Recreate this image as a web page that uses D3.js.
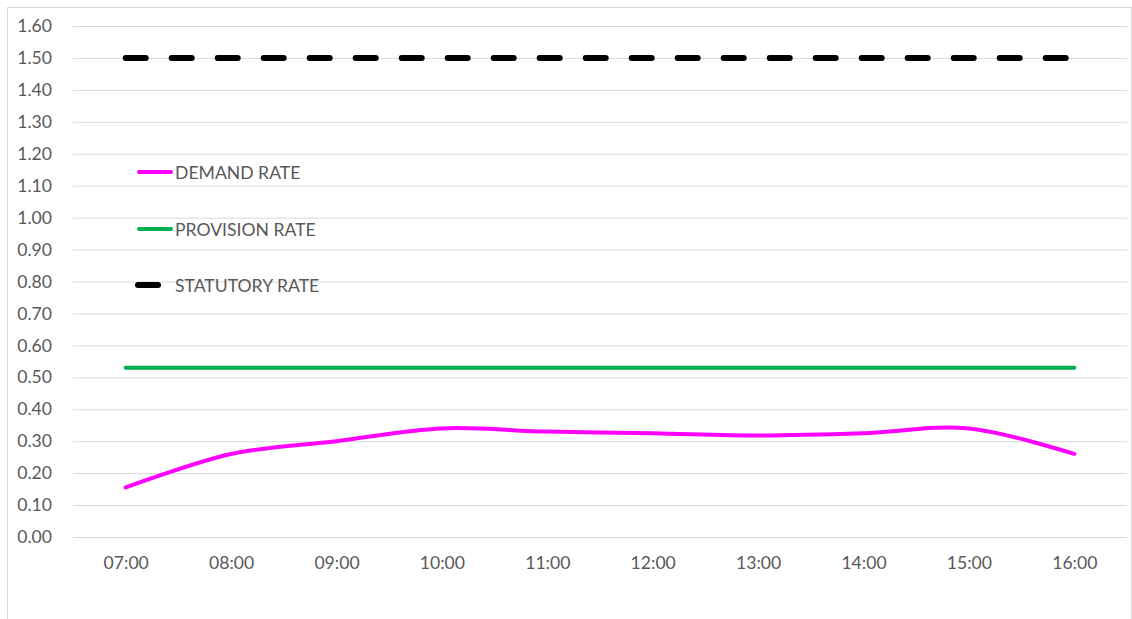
<!DOCTYPE html>
<html>
<head>
<meta charset="utf-8">
<script src="https://cdn.jsdelivr.net/npm/d3@7"></script>
<style>
  html, body { margin: 0; padding: 0; background: #fff; }
  svg { display: block; }
  text { font-family: "Lato", "Open Sans", sans-serif; fill: #595959; }
</style>
</head>
<body>
<svg id="chart" width="1132" height="619"></svg>
<script>
// Hourly time slots
const hours = ["07:00", "08:00", "09:00", "10:00", "11:00", "12:00", "13:00", "14:00", "15:00", "16:00"];
// Rates per slot
const demandRate    = [0.155, 0.26, 0.30, 0.34, 0.33, 0.325, 0.318, 0.325, 0.34, 0.26];
const provisionRate = [0.53, 0.53, 0.53, 0.53, 0.53, 0.53, 0.53, 0.53, 0.53, 0.53];
const statutoryRate = [1.50, 1.50, 1.50, 1.50, 1.50, 1.50, 1.50, 1.50, 1.50, 1.50];
const yTicks = [0, 0.1, 0.2, 0.3, 0.4, 0.5, 0.6, 0.7, 0.8, 0.9, 1.0, 1.1, 1.2, 1.3, 1.4, 1.5, 1.6];
const seriesNames = ["DEMAND RATE", "PROVISION RATE", "STATUTORY RATE"];

const svg = d3.select("#chart");
const W = 1132, H = 619;
const plot = { left: 73, right: 1127, top: 26, bottom: 537 };
const FONT_SIZE = 17.6;

// chart area frame
svg.append("rect")
  .attr("x", 7.5).attr("y", 7.5)
  .attr("width", W - 8).attr("height", H)
  .attr("fill", "#fff").attr("stroke", "#d9d9d9").attr("stroke-width", 1);

const x = d3.scalePoint().domain(hours)
  .range([plot.left, plot.right]).padding(0.5);
const y = d3.scaleLinear().domain([0, 1.6]).range([plot.bottom, plot.top]);

// horizontal gridlines + y labels
const yAxis = d3.axisLeft(y).tickValues(yTicks)
  .tickSize(-(plot.right - plot.left)).tickPadding(21)
  .tickFormat(d3.format(".2f"));
const gy = svg.append("g").attr("transform", `translate(${plot.left},0)`).call(yAxis);
gy.select(".domain").remove();
gy.selectAll(".tick line").attr("stroke", "#d9d9d9").attr("stroke-width", 1);
gy.selectAll(".tick text").attr("font-size", FONT_SIZE).style("fill", "#595959")
  .attr("font-family", "Lato, sans-serif");

// x labels
const xAxis = d3.axisBottom(x).tickSize(0).tickPadding(20);
const gx = svg.append("g").attr("transform", `translate(0,${plot.bottom})`).call(xAxis);
gx.select(".domain").remove();
gx.selectAll(".tick text").attr("font-size", FONT_SIZE).style("fill", "#595959")
  .attr("font-family", "Lato, sans-serif");

// series
const smooth = d3.line().x((d, i) => x(hours[i])).y(d => y(d)).curve(d3.curveCatmullRom.alpha(0.5));
const straight = d3.line().x((d, i) => x(hours[i])).y(d => y(d));

svg.append("path").datum(provisionRate).attr("d", straight)
  .attr("fill", "none").attr("stroke", "#00b050").attr("stroke-width", 4)
  .attr("stroke-linecap", "round");

svg.append("path").datum(demandRate).attr("d", smooth)
  .attr("fill", "none").attr("stroke", "#ff00ff").attr("stroke-width", 4)
  .attr("stroke-linecap", "round");

svg.append("path").datum(statutoryRate).attr("d", straight)
  .attr("fill", "none").attr("stroke", "#000").attr("stroke-width", 6)
  .attr("stroke-linecap", "round").attr("stroke-dasharray", "20,26");

// legend
const legend = [
  { name: seriesNames[0], color: "#ff00ff", width: 4, dash: false, y: 172 },
  { name: seriesNames[1], color: "#00b050", width: 4, dash: false, y: 229 },
  { name: seriesNames[2], color: "#000",    width: 6, dash: true,  y: 285 }
];
const lg = svg.append("g");
legend.forEach(l => {
  lg.append("line")
    .attr("x1", l.dash ? 138 : 139).attr("x2", l.dash ? 158 : 171)
    .attr("y1", l.y).attr("y2", l.y)
    .attr("stroke", l.color).attr("stroke-width", l.width)
    .attr("stroke-linecap", "round");
  lg.append("text").attr("x", 175).attr("y", l.y + 6.5)
    .attr("font-size", FONT_SIZE).text(l.name);
});
</script>
</body>
</html>
